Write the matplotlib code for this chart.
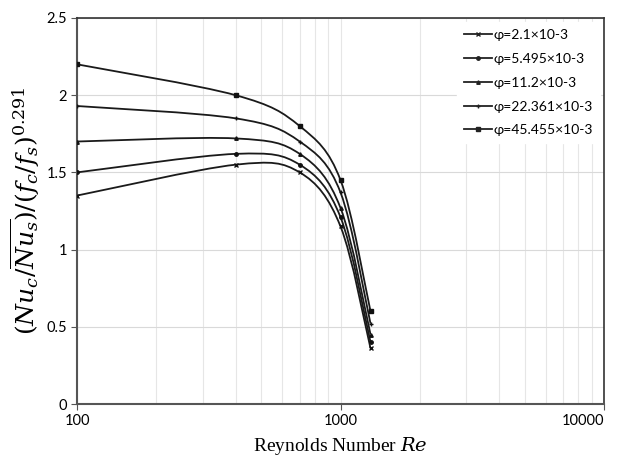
import numpy as np
import matplotlib.pyplot as plt
from matplotlib.path import Path
from matplotlib.patches import PathPatch
from matplotlib.lines import Line2D

plt.rcParams['mathtext.fontset'] = 'dejavuserif'

# Reynolds numbers and the ratio
re = np.array([100, 400, 700, 1000, 1300])
phi_21    = np.array([1.35, 1.55, 1.50, 1.15, 0.36])
phi_5495  = np.array([1.50, 1.62, 1.55, 1.21, 0.40])
phi_112   = np.array([1.70, 1.72, 1.62, 1.27, 0.45])
phi_22361 = np.array([1.93, 1.85, 1.70, 1.37, 0.52])
phi_45455 = np.array([2.20, 2.00, 1.80, 1.45, 0.60])

series = [phi_21, phi_5495, phi_112, phi_22361, phi_45455]
labels = ['φ=2.1×10-3', 'φ=5.495×10-3', 'φ=11.2×10-3',
          'φ=22.361×10-3', 'φ=45.455×10-3']
markers = ['x', 'o', '^', '+', 's']
msizes = [3.5, 2.5, 2.5, 3.5, 3.5]


def smooth_path(x, y):
    # Excel-style smoothed line: cubic Bezier segments, tangents from neighbours (in log-x)
    lx = np.log10(x)
    n = len(x)
    verts = [(x[0], y[0])]
    codes = [Path.MOVETO]
    for i in range(n - 1):
        i0 = max(i - 1, 0)
        i3 = min(i + 2, n - 1)
        c1x = lx[i] + (lx[i + 1] - lx[i0]) / 6
        c1y = y[i] + (y[i + 1] - y[i0]) / 6
        c2x = lx[i + 1] - (lx[i3] - lx[i]) / 6
        c2y = y[i + 1] - (y[i3] - y[i]) / 6
        verts += [(10 ** c1x, c1y), (10 ** c2x, c2y), (x[i + 1], y[i + 1])]
        codes += [Path.CURVE4] * 3
    return Path(verts, codes)


fig = plt.figure(figsize=(6.24, 4.59), dpi=100)
ax = fig.add_axes([0.1234, 0.1198, 0.8446, 0.8410])
ax.set_xscale('log')
ax.set_xlim(100, 10000)
ax.set_ylim(0, 2.5)

ax.set_yticks(np.arange(0, 2.51, 0.5))
ax.set_yticklabels(['0', '0.5', '1', '1.5', '2', '2.5'])
ax.set_xticks([100, 1000, 10000])
ax.set_xticklabels(['100', '1000', '10000'])
ax.grid(True, which='major', axis='y', color='#d9d9d9', lw=0.8)
ax.grid(True, which='both', axis='x', color='#e6e6e6', lw=0.8)
ax.tick_params(axis='x', which='minor', length=0)
ax.tick_params(axis='both', which='major', length=4, color='#555555',
               labelsize=10.5, pad=3)
for lab in ax.get_xticklabels() + ax.get_yticklabels():
    lab.set_family('Lato')
ax.get_xticklabels()[-1].set_ha('right')

for side in ['left', 'bottom']:
    ax.spines[side].set_color('#555555')
    ax.spines[side].set_linewidth(1.5)
for side in ['top', 'right']:
    ax.spines[side].set_color('#333333')
    ax.spines[side].set_linewidth(1.2)

handles = []
for y, lab, m, ms in zip(series, labels, markers, msizes):
    ax.add_patch(PathPatch(smooth_path(re, y), fc='none', ec='#1a1a1a', lw=1.3,
                           transform=ax.transData, zorder=3))
    ax.plot(re, y, ls='none', marker=m, ms=ms, color='#111111', mew=1.0, zorder=4)
    handles.append(Line2D([], [], color='#222222', lw=1.3, marker=m, ms=ms, mew=1.0))

leg = ax.legend(handles, labels, loc='upper right', frameon=True, fancybox=False,
                edgecolor='white', facecolor='white', framealpha=1,
                prop={'family': 'Lato', 'size': 10}, handlelength=2.0,
                handletextpad=0.1, labelspacing=0.85, borderaxespad=0.3,
                borderpad=0.5)
leg.set_zorder(5)

ax.set_xlabel('Reynolds Number $\\mathit{Re}$', family='Liberation Serif',
              fontsize=14, labelpad=5)
ax.set_ylabel('$(Nu_c/\\overline{Nu_s})/(f_c/f_s)^{0.291}$', fontsize=18,
              labelpad=3)

fig.savefig('out.png', dpi=100)
